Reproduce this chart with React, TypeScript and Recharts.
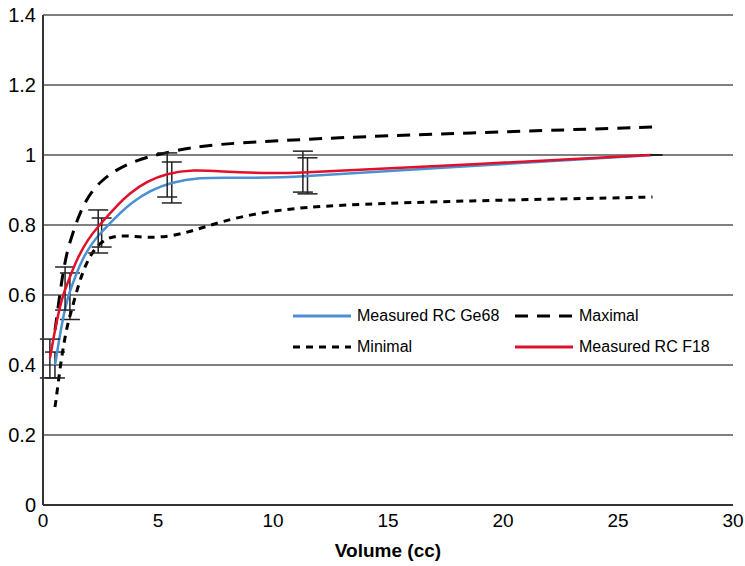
import { LineChart, Line, XAxis, YAxis, CartesianGrid, ErrorBar, Legend } from "recharts"

// volumes (cc) and recovery coefficients
const ge68Volume = [0.52, 1.17, 2.55, 5.6, 11.5, 26.5]
const ge68Rc = [0.4, 0.61, 0.78, 0.92, 0.94, 1.0]
const ge68Err = [[0.037, 0.037], [0.08, 0.053], [0.043, 0.04], [0.057, 0.06], [0.051, 0.052], [0, 0]]

const f18Volume = [0.3, 0.96, 2.4, 5.4, 11.3, 26.4]
const f18Rc = [0.42, 0.615, 0.795, 0.945, 0.95, 1.0]
const f18Err = [[0.057, 0.054], [0.058, 0.065], [0.075, 0.048], [0.065, 0.061], [0.056, 0.061], [0, 0]]

const boundVolume = [0.52, 1.17, 2.55, 5.6, 11.5, 26.5]
const maximalRc = [0.5, 0.75, 0.925, 1.01, 1.045, 1.08]
const minimalRc = [0.28, 0.54, 0.75, 0.77, 0.85, 0.88]

const xTicks = [0, 5, 10, 15, 20, 25, 30]
const yTicks = [0, 0.2, 0.4, 0.6, 0.8, 1, 1.2, 1.4]

const ge68Data = ge68Volume.map((x, i) => ({ x, y: ge68Rc[i], err: ge68Err[i] }))
const f18Data = f18Volume.map((x, i) => ({ x, y: f18Rc[i], err: f18Err[i] }))
const maxData = boundVolume.map((x, i) => ({ x, y: maximalRc[i] }))
const minData = boundVolume.map((x, i) => ({ x, y: minimalRc[i] }))

const BLUE = "#4a90d2"
const RED = "#e0102a"
const FONT = "'Liberation Sans', Arial, Helvetica, sans-serif"

// spreadsheet-style smoothed line (Catmull-Rom through the points)
const smooth = (context: any) => {
  let pts: number[][] = []
  return {
    areaStart() {},
    areaEnd() {},
    lineStart() {
      pts = []
    },
    lineEnd() {
      const n = pts.length
      if (!n) return
      context.moveTo(pts[0][0], pts[0][1])
      for (let i = 0; i < n - 1; i++) {
        const p0 = pts[Math.max(i - 1, 0)]
        const p1 = pts[i]
        const p2 = pts[i + 1]
        const p3 = pts[Math.min(i + 2, n - 1)]
        context.bezierCurveTo(
          p1[0] + (p2[0] - p0[0]) / 6,
          p1[1] + (p2[1] - p0[1]) / 6,
          p2[0] - (p3[0] - p1[0]) / 6,
          p2[1] - (p3[1] - p1[1]) / 6,
          p2[0],
          p2[1]
        )
      }
    },
    point(x: number, y: number) {
      pts.push([x, y])
    },
  }
}

const legendItems = [
  { name: "Measured RC Ge68", color: BLUE, dash: undefined },
  { name: "Maximal", color: "#000", dash: "13 9" },
  { name: "Minimal", color: "#000", dash: "7 6" },
  { name: "Measured RC F18", color: RED, dash: undefined },
]

const renderLegend = () => (
  <div
    style={{
      display: "grid",
      gridTemplateColumns: "222px 200px",
      rowGap: 9,
      fontFamily: FONT,
      fontSize: 16,
      whiteSpace: "nowrap",
    }}
  >
    {legendItems.map((item) => (
      <div key={item.name} style={{ display: "flex", alignItems: "center", height: 22 }}>
        <svg width={58} height={6} style={{ marginRight: 6, flexShrink: 0 }}>
          <line x1={0} y1={3} x2={58} y2={3} stroke={item.color} strokeWidth={3} strokeDasharray={item.dash} />
        </svg>
        <span style={{ color: "#000" }}>{item.name}</span>
      </div>
    ))}
  </div>
)

export default function App() {
  return (
    <div style={{ position: "absolute", left: 0, top: 0 }}>
      <LineChart width={745} height={566} margin={{ top: 15, right: 12, left: 0, bottom: 0 }}>
        <CartesianGrid vertical={false} stroke="#000" strokeWidth={1} />
        <XAxis
          type="number"
          dataKey="x"
          domain={[0, 30]}
          ticks={xTicks}
          allowDataOverflow
          height={61}
          tickLine={false}
          tickSize={0}
          tickMargin={9}
          axisLine={{ stroke: "#333", strokeWidth: 2 }}
          tick={{ fill: "#000", fontSize: 19, fontFamily: FONT }}
          label={{
            value: "Volume (cc)",
            position: "insideBottom",
            offset: 9,
            style: { fill: "#000", fontSize: 19, fontWeight: "bold", fontFamily: FONT },
          }}
        />
        <YAxis
          type="number"
          domain={[0, 1.4]}
          ticks={yTicks}
          width={43}
          tickLine={false}
          tickSize={0}
          tickMargin={7}
          axisLine={{ stroke: "#333", strokeWidth: 2 }}
          tick={{ fill: "#000", fontSize: 20, fontFamily: FONT }}
        />
        <Legend
          layout="horizontal"
          verticalAlign="middle"
          align="center"
          content={renderLegend}
          wrapperStyle={{ left: 293, top: 305, width: 440 }}
        />
        <Line
          data={ge68Data}
          dataKey="y"
          type={smooth as any}
          stroke={BLUE}
          strokeWidth={2.5}
          dot={false}
          isAnimationActive={false}
        >
          <ErrorBar dataKey="err" direction="y" width={10} stroke="#222" strokeWidth={1.5} />
        </Line>
        <Line
          data={maxData}
          dataKey="y"
          type={smooth as any}
          stroke="#000"
          strokeWidth={3}
          strokeDasharray="13 9"
          dot={false}
          isAnimationActive={false}
        />
        <Line
          data={minData}
          dataKey="y"
          type={smooth as any}
          stroke="#000"
          strokeWidth={3}
          strokeDasharray="7 6"
          dot={false}
          isAnimationActive={false}
        />
        <Line
          data={f18Data}
          dataKey="y"
          type={smooth as any}
          stroke={RED}
          strokeWidth={2.5}
          dot={false}
          isAnimationActive={false}
        >
          <ErrorBar dataKey="err" direction="y" width={10} stroke="#222" strokeWidth={1.5} />
        </Line>
      </LineChart>
    </div>
  )
}
